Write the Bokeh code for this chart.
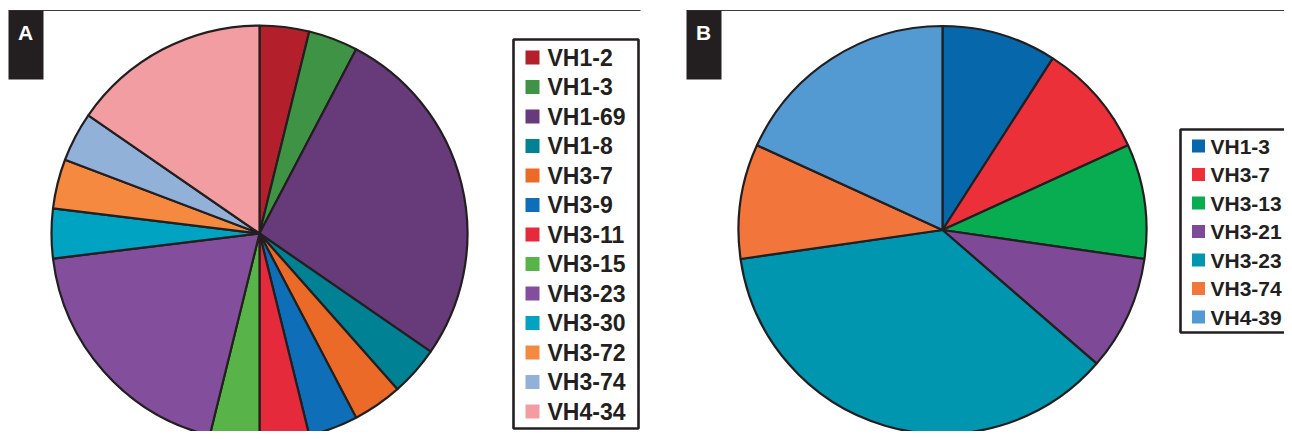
import numpy as np
from bokeh.plotting import figure
from bokeh.models import Range1d, ColumnDataSource
from bokeh.core.properties import value
from bokeh.embed import file_html
from bokeh.resources import INLINE

# ---------------- data ----------------
genes_a = ["VH1-2", "VH1-3", "VH1-69", "VH1-8", "VH3-7", "VH3-9", "VH3-11",
           "VH3-15", "VH3-23", "VH3-30", "VH3-72", "VH3-74", "VH4-34"]
counts_a = [1, 1, 7, 1, 1, 1, 1, 1, 5, 1, 1, 1, 4]
colors_a = ["#B31F2B", "#3E9444", "#673A7A", "#008194", "#EC6A27", "#0E6EB8",
            "#E52A3B", "#58B448", "#834F9C", "#00A3C1", "#F5893F", "#92B1D9",
            "#F29DA2"]

genes_b = ["VH1-3", "VH3-7", "VH3-13", "VH3-21", "VH3-23", "VH3-74", "VH4-39"]
counts_b = [1, 1, 1, 1, 4, 1, 2]
colors_b = ["#0767AB", "#EC3039", "#08AD51", "#7E4A97", "#0096B0", "#F2763B",
            "#5399D2"]

panel_labels = ["A", "B"]

# ---------------- figure ----------------
W, H = 1284, 431
INK = "#231F20"
p = figure(width=W, height=H, x_range=Range1d(0, W), y_range=Range1d(0, H),
           output_backend="svg", toolbar_location=None, min_border=0,
           x_axis_location=None, y_axis_location=None)
p.grid.visible = False
p.outline_line_color = None
p.background_fill_color = "white"
p.border_fill_color = "white"


def X(sx):
    return sx


def Y(sy):
    return H - sy


def pie(names, counts, colors, cx, cy, r):
    c = np.array(counts, dtype=float)
    frac = c / c.sum()
    ends = np.cumsum(frac)
    starts = ends - frac
    src = ColumnDataSource(dict(name=names,
                                start=np.pi / 2 - starts * 2 * np.pi,
                                end=np.pi / 2 - ends * 2 * np.pi,
                                color=colors))
    p.wedge(x=X(cx), y=Y(cy), radius=r, start_angle="start", end_angle="end",
            direction="clock", fill_color="color", line_color=INK,
            line_width=2.2, source=src)


def legend(names, colors, box, sw_x, first_y, step, sw, text_x, fs):
    l, t, r, b = box
    p.quad(left=X(l), right=X(r), top=Y(t), bottom=Y(b), fill_color=None,
           line_color=INK, line_width=2.6)
    ys = [Y(first_y + i * step) for i in range(len(names))]
    p.rect(x=X(sw_x), y=ys, width=sw, height=sw, fill_color=colors,
           line_color=None)
    p.text(x=X(text_x), y=ys, text=names, text_font=value("Liberation Sans"),
           text_font_style="bold", text_font_size=f"{fs}px",
           text_baseline="middle", text_align="left", text_color=INK)


def panel_header(label, x0, x1):
    p.segment(x0=X(x0), y0=Y(10), x1=X(x1), y1=Y(10), line_color="#3c3c3c",
              line_width=1.2)
    p.quad(left=X(x0), right=X(x0 + 35), top=Y(10), bottom=Y(79),
           fill_color=INK, line_color=None)
    p.text(x=[X(x0 + 17)], y=[Y(32)], text=[label],
           text_font=value("Liberation Sans"), text_font_style="bold",
           text_font_size="21px", text_align="center", text_baseline="middle",
           text_color="white")


# Panel A
panel_header(panel_labels[0], 8, 640)
pie(genes_a, counts_a, colors_a, 259, 233, 208)
legend(genes_a, colors_a, (513, 39, 638, 428), 532, 57, 29.5, 14, 547, 23)

# Panel B
panel_header(panel_labels[1], 686, 1300)
pie(genes_b, counts_b, colors_b, 942, 229.5, 204)
legend(genes_b, colors_b, (1180, 129, 1310, 332), 1198, 145.5, 28.5, 13, 1210, 21)

open("out.html", "w").write(file_html(p, INLINE))
